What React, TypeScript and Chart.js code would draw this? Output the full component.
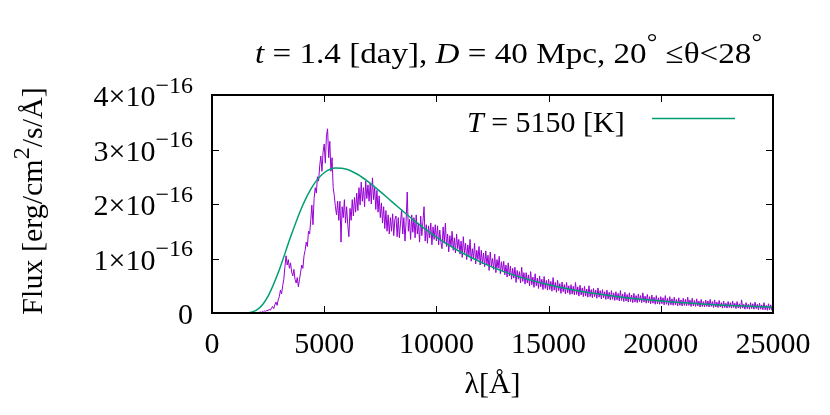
import React, { useEffect, useRef } from "react";
import { Chart, registerables } from "chart.js";

Chart.register(...registerables);

const W = 830;
const H = 415;
const FONT = '"Liberation Serif", "Times New Roman", Times, serif';

// ---- data (flux in units of 1e-16 erg/cm^2/s/Å) ----
const SPEC_START = 0;
const SPEC_STEP = 50; // Å
const SPEC_FLUX = [
  // 0 - 1950
  0, 0, 0, 0, 0, 0, 0, 0, 0, 0, 0, 0, 0, 0, 0, 0, 0, 0, 0, 0,
  0, 0, 0, 0, 0, 0, 0, 0, 0, 0, 0, 0, 0, 0, 0, 0, 0, 0, 0, 0,
  // 2000 - 2950
  0.0, 0.01, 0.01, 0.02, 0.01, 0.03, 0.02, 0.04, 0.03, 0.05, 0.04, 0.07, 0.05, 0.09, 0.12, 0.08, 0.15, 0.2, 0.14, 0.24,
  // 3000
  0.3, 0.42, 0.35, 0.5, 0.62, 0.85, 1.05, 0.88, 0.98, 0.82, 0.92, 0.75, 0.68, 0.8, 0.62, 0.55, 0.65, 0.48, 0.62, 0.75,
  // 4000
  0.88, 0.82, 1.05, 1.15, 1.3, 1.22, 1.5, 1.45, 1.7, 1.98, 1.62, 2.1, 2.3, 2.2, 2.5, 2.42, 2.7, 2.88, 2.6, 2.95,
  // 5000
  3.1, 2.75, 3.25, 3.38, 2.85, 3.15, 2.6, 2.85, 2.3, 2.15, 1.95, 1.8, 2.05, 1.7, 2.05, 1.3, 1.95, 1.75, 2.08, 1.65,
  // 6000
  1.95, 1.62, 1.4, 1.92, 1.7, 2.08, 1.78, 2.12, 1.85, 2.2, 1.88, 2.3, 1.98, 2.4, 2.05, 2.3, 1.95, 2.42, 2.1, 2.35,
  // 7000
  2.05, 2.38, 2.0, 2.48, 2.08, 2.3, 1.9, 2.25, 1.85, 2.15, 1.75, 2.02, 1.65, 1.95, 1.55, 1.88, 1.5, 1.8, 1.45, 1.75,
  // 8000
  1.5, 1.82, 1.42, 1.72, 1.78, 1.4, 1.75, 1.38, 1.65, 1.9, 1.45, 1.75, 1.32, 1.68, 2.22, 1.5, 1.72, 1.35, 1.8, 1.48,
  // 9000
  1.75, 1.38, 1.8, 1.45, 1.65, 1.3, 1.78, 1.42, 1.68, 1.95, 1.32, 1.62, 1.28, 1.6, 1.38, 1.65, 1.25, 1.58, 1.35, 1.62,
  // 10000
  1.32, 1.6, 1.25, 1.52, 1.3, 1.18, 1.58, 1.28, 1.65, 1.22, 1.45, 1.12, 1.42, 1.22, 1.5, 1.15, 1.38, 1.1, 1.45, 1.18,
  // 11000
  1.35, 1.08, 1.32, 1.02, 1.4, 1.1, 1.28, 0.98, 1.25, 1.05, 1.35, 0.95, 1.18, 1.0, 1.28, 0.9, 1.15, 0.98, 1.22, 0.88,
  // 12000
  1.15, 0.9, 1.1, 0.85, 1.14, 0.88, 1.06, 0.78, 1.12, 0.86, 1.0, 0.8, 1.08, 0.74, 0.98, 0.82, 1.04, 0.72, 0.94, 0.76,
  // 13000
  0.95, 0.7, 0.88, 0.66, 0.92, 0.68, 0.86, 0.62, 0.82, 0.64, 0.84, 0.56, 0.78, 0.62, 0.76, 0.55, 0.84, 0.58, 0.74, 0.53,
  // 14000
  0.74, 0.55, 0.7, 0.5, 0.76, 0.52, 0.66, 0.47, 0.72, 0.5, 0.64, 0.45, 0.68, 0.48, 0.62, 0.43, 0.67, 0.45, 0.6, 0.42,
  // 15000
  0.62, 0.43, 0.58, 0.4, 0.65, 0.42, 0.56, 0.38, 0.6, 0.41, 0.54, 0.36, 0.57, 0.39, 0.52, 0.35, 0.56, 0.37, 0.5, 0.34,
  // 16000
  0.52, 0.35, 0.49, 0.33, 0.56, 0.34, 0.48, 0.31, 0.51, 0.33, 0.46, 0.3, 0.49, 0.31, 0.44, 0.29, 0.5, 0.3, 0.43, 0.28,
  // 17000
  0.45, 0.3, 0.42, 0.27, 0.46, 0.29, 0.41, 0.26, 0.43, 0.28, 0.39, 0.25, 0.42, 0.26, 0.38, 0.24, 0.41, 0.25, 0.37, 0.23,
  // 18000
  0.39, 0.24, 0.36, 0.22, 0.41, 0.23, 0.35, 0.21, 0.38, 0.22, 0.34, 0.2, 0.37, 0.21, 0.33, 0.19, 0.36, 0.2, 0.32, 0.19,
  // 19000
  0.35, 0.21, 0.32, 0.19, 0.37, 0.2, 0.31, 0.18, 0.34, 0.19, 0.3, 0.17, 0.33, 0.18, 0.29, 0.16, 0.32, 0.17, 0.28, 0.16,
  // 20000
  0.3, 0.17, 0.28, 0.15, 0.32, 0.16, 0.27, 0.14, 0.3, 0.15, 0.26, 0.14, 0.29, 0.15, 0.25, 0.13, 0.28, 0.14, 0.24, 0.13,
  // 21000
  0.27, 0.14, 0.25, 0.13, 0.29, 0.14, 0.24, 0.12, 0.27, 0.13, 0.23, 0.12, 0.26, 0.13, 0.22, 0.11, 0.25, 0.12, 0.21, 0.11,
  // 22000
  0.24, 0.12, 0.22, 0.11, 0.25, 0.12, 0.21, 0.1, 0.24, 0.11, 0.2, 0.1, 0.23, 0.11, 0.19, 0.09, 0.22, 0.1, 0.18, 0.09,
  // 23000
  0.21, 0.1, 0.19, 0.09, 0.22, 0.1, 0.18, 0.08, 0.21, 0.09, 0.17, 0.08, 0.24, 0.09, 0.16, 0.07, 0.19, 0.08, 0.16, 0.07,
  // 24000
  0.19, 0.08, 0.17, 0.07, 0.2, 0.08, 0.16, 0.06, 0.18, 0.07, 0.15, 0.06, 0.19, 0.06, 0.14, 0.05, 0.17, 0.06, 0.15, 0.05,
  // 25000
  0.09,
];

const BB_LAMBDA = [
  0, 1000, 1500, 1750, 2000, 2250, 2500, 3000, 3500, 4000, 4500, 5000, 5500,
  6000, 6500, 7000, 7500, 8000, 9000, 10000, 11000, 12000, 13000, 14000,
  15000, 16000, 17000, 18000, 19000, 20000, 22000, 25000,
];
const BB_FLUX = [
  0, 0, 0.002, 0.015, 0.057, 0.151, 0.308, 0.795, 1.393, 1.937, 2.338, 2.573,
  2.661, 2.639, 2.541, 2.397, 2.227, 2.049, 1.701, 1.394, 1.138, 0.929, 0.76,
  0.626, 0.518, 0.431, 0.361, 0.304, 0.258, 0.22, 0.162, 0.107,
];

const X_TICKS = [0, 5000, 10000, 15000, 20000, 25000];
const X_TICK_LABELS = ["0", "5000", "10000", "15000", "20000", "25000"];
const Y_TICKS = [0, 1, 2, 3, 4];
const Y_TICK_MANT = ["0", "1×10", "2×10", "3×10", "4×10"];
const Y_TICK_EXP = ["", "−16", "−16", "−16", "−16"];

const SPEC_COLOR = "#9400D3";
const BB_COLOR = "#009E73";

type Seg = { t: string; it?: boolean; sup?: boolean };

const FS = 30;

function segFont(size: number, s: Seg) {
  const sz = s.sup ? size * 0.8 : size;
  return `${s.it ? "italic " : ""}${sz}px ${FONT}`;
}
function measureRich(ctx: CanvasRenderingContext2D, segs: Seg[], size: number) {
  let w = 0;
  for (const s of segs) {
    ctx.font = segFont(size, s);
    w += ctx.measureText(s.t).width;
  }
  return w;
}
function drawRich(
  ctx: CanvasRenderingContext2D,
  segs: Seg[],
  x: number,
  y: number,
  size: number,
  align: "left" | "center" | "right",
  fitWidth?: number
) {
  const natural = measureRich(ctx, segs, size);
  const sx = fitWidth ? fitWidth / natural : 1;
  const w = natural * sx;
  const x0 = align === "left" ? x : align === "center" ? x - w / 2 : x - w;
  ctx.save();
  ctx.translate(x0, y);
  ctx.scale(sx, 1);
  ctx.textAlign = "left";
  ctx.textBaseline = "alphabetic";
  ctx.fillStyle = "#000";
  let p = 0;
  for (const s of segs) {
    ctx.font = segFont(size, s);
    ctx.fillText(s.t, p, s.sup ? -size * 0.45 : 0);
    p += ctx.measureText(s.t).width;
  }
  ctx.restore();
}

const TITLE: Seg[] = [
  { t: "t", it: true },
  { t: " = 1.4 [day], " },
  { t: "D", it: true },
  { t: " = 40 Mpc, 20" },
  { t: "°", sup: true },
  { t: " ≤θ<28" },
  { t: "°", sup: true },
];
const LEGEND: Seg[] = [{ t: "T", it: true }, { t: " = 5150 [K]" }];
const X_TITLE: Seg[] = [{ t: "λ[Å]" }];
const Y_TITLE: Seg[] = [
  { t: "Flux [erg/cm" },
  { t: "2", sup: true },
  { t: "/s/Å]" },
];

const gnuplotPlugin = {
  id: "gnuplotDecor",
  afterDatasetsDraw(chart: any) {
    const ctx: CanvasRenderingContext2D = chart.ctx;
    const a = chart.chartArea;
    const xs = chart.scales.x;
    const ys = chart.scales.y;
    ctx.save();
    // ticks (inward, mirrored)
    ctx.strokeStyle = "#000";
    ctx.lineWidth = 1;
    const TL = 7;
    ctx.beginPath();
    for (const v of X_TICKS) {
      const px = Math.round(xs.getPixelForValue(v)) + 0.5;
      ctx.moveTo(px, a.bottom);
      ctx.lineTo(px, a.bottom - TL);
      ctx.moveTo(px, a.top);
      ctx.lineTo(px, a.top + TL);
    }
    for (const v of Y_TICKS) {
      const py = Math.round(ys.getPixelForValue(v)) + 0.5;
      ctx.moveTo(a.left, py);
      ctx.lineTo(a.left + TL, py);
      ctx.moveTo(a.right, py);
      ctx.lineTo(a.right - TL, py);
    }
    ctx.stroke();
    // frame
    ctx.lineWidth = 2;
    ctx.strokeRect(a.left, a.top, a.right - a.left, a.bottom - a.top);

    // x tick labels
    X_TICKS.forEach((v, i) => {
      drawRich(ctx, [{ t: X_TICK_LABELS[i] }], xs.getPixelForValue(v), a.bottom + 40, FS, "center");
    });
    // y tick labels
    Y_TICKS.forEach((v, i) => {
      const segs: Seg[] = [{ t: Y_TICK_MANT[i] }];
      if (Y_TICK_EXP[i]) segs.push({ t: Y_TICK_EXP[i], sup: true });
      drawRich(ctx, segs, a.left - 19, ys.getPixelForValue(v) + 11, FS, "right");
    });
    // title
    drawRich(ctx, TITLE, 255, 63, FS, "left", 507);
    // x title
    drawRich(ctx, X_TITLE, (a.left + a.right) / 2, 393, FS, "center");
    // y title (rotated)
    ctx.save();
    ctx.translate(42, 201);
    ctx.rotate(-Math.PI / 2);
    drawRich(ctx, Y_TITLE, 0, 0, FS, "center");
    ctx.restore();
    // legend
    drawRich(ctx, LEGEND, 467, 132, FS, "left");
    ctx.strokeStyle = BB_COLOR;
    ctx.lineWidth = 1.5;
    ctx.beginPath();
    ctx.moveTo(652, 118.5);
    ctx.lineTo(735, 118.5);
    ctx.stroke();
    ctx.restore();
  },
};

export default function App() {
  const ref = useRef<HTMLCanvasElement | null>(null);
  useEffect(() => {
    if (!ref.current) return;
    const specData = SPEC_FLUX.map((y, i) => ({ x: SPEC_START + i * SPEC_STEP, y }));
    const bbData = BB_LAMBDA.map((x, i) => ({ x, y: BB_FLUX[i] }));
    const chart = new Chart(ref.current, {
      type: "line",
      data: {
        datasets: [
          {
            label: "spectrum",
            data: specData,
            borderColor: SPEC_COLOR,
            borderWidth: 1,
            pointRadius: 0,
            tension: 0,
            order: 1,
          },
          {
            label: "T = 5150 [K]",
            data: bbData,
            borderColor: BB_COLOR,
            borderWidth: 1.5,
            pointRadius: 0,
            cubicInterpolationMode: "monotone",
            order: 0,
          },
        ],
      },
      options: {
        animation: false,
        responsive: false,
        devicePixelRatio: 1,
        events: [],
        layout: { padding: { left: 212, right: W - 773, top: 95, bottom: H - 313 } },
        scales: {
          x: { type: "linear", min: 0, max: 25000, display: false },
          y: { type: "linear", min: 0, max: 4, display: false },
        },
        plugins: {
          legend: { display: false },
          tooltip: { enabled: false },
          title: { display: false },
        },
      } as any,
      plugins: [gnuplotPlugin],
    });
    return () => chart.destroy();
  }, []);
  return (
    <div style={{ position: "absolute", left: 0, top: 0, width: W, height: H, background: "#fff" }}>
      <canvas ref={ref} width={W} height={H} style={{ display: "block", width: W, height: H }} />
    </div>
  );
}
